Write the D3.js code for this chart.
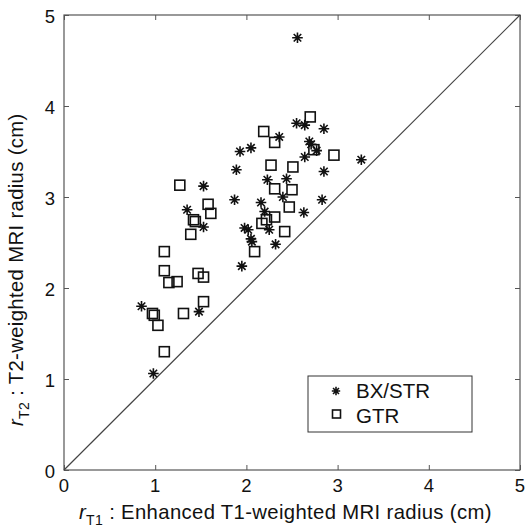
<!DOCTYPE html>
<html><head><meta charset="utf-8">
<script src="https://cdn.jsdelivr.net/npm/d3@7"></script>
<style>body{margin:0;background:#fff}svg{display:block}text{font-family:"Liberation Sans",Arial,sans-serif;fill:#111}</style>
</head><body><svg id="c" width="525" height="530"></svg>
<script>
const bxX=[2.56,2.55,2.64,2.85,2.36,2.69,2.71,2.77,2.64,1.93,2.05,3.26,1.89,2.85,2.23,2.44,1.53,2.40,1.87,2.16,2.83,1.35,2.20,2.63,1.53,1.98,2.02,2.05,2.06,2.25,2.32,1.95,0.85,1.48,0.98];
const bxY=[4.75,3.81,3.79,3.75,3.66,3.61,3.58,3.51,3.44,3.50,3.54,3.41,3.30,3.28,3.19,3.20,3.12,3.00,2.97,2.94,2.97,2.86,2.84,2.83,2.67,2.66,2.64,2.54,2.51,2.64,2.48,2.24,1.80,1.74,1.06];
const gtrX=[2.70,2.19,2.31,2.74,2.96,2.27,2.51,1.27,2.31,2.50,1.58,2.47,1.61,2.31,1.42,1.44,2.17,2.22,1.39,2.42,2.09,1.10,1.10,1.15,1.24,1.47,1.53,1.53,1.31,0.97,0.99,1.03,1.10];
const gtrY=[3.88,3.72,3.60,3.52,3.46,3.35,3.33,3.13,3.09,3.08,2.92,2.89,2.82,2.78,2.75,2.73,2.71,2.75,2.59,2.62,2.40,2.40,2.19,2.06,2.07,2.16,2.12,1.85,1.72,1.72,1.70,1.59,1.30];
const ticks=[0,1,2,3,4,5];
const legendLabels=["BX/STR","GTR"];

const svg=d3.select("#c");
const L=64,R=520,T=15,B=470;
const x=d3.scaleLinear().domain([0,5]).range([L,R]);
const y=d3.scaleLinear().domain([0,5]).range([B,T]);
const axisCol="#555";

const g=svg.append("g");
const mk=(axis,tr)=>{const a=g.append("g").attr("transform",tr).call(axis);a.select(".domain").remove();a.selectAll("line").attr("stroke",axisCol);a.selectAll("text").remove();};
mk(d3.axisBottom(x).tickValues(ticks).tickSize(-5),`translate(0,${B})`);
mk(d3.axisTop(x).tickValues(ticks).tickSize(-5),`translate(0,${T})`);
mk(d3.axisLeft(y).tickValues(ticks).tickSize(-5),`translate(${L},0)`);
mk(d3.axisRight(y).tickValues(ticks).tickSize(-5),`translate(${R},0)`);
g.append("rect").attr("x",L).attr("y",T).attr("width",R-L).attr("height",B-T).attr("fill","none").attr("stroke",axisCol).attr("stroke-width",1.2);

svg.selectAll(".xl").data(ticks).enter().append("text").attr("x",d=>x(d)).attr("y",B+22).attr("text-anchor","middle").attr("font-size",18.5).text(d=>d);
svg.selectAll(".yl").data(ticks).enter().append("text").attr("x",L-9).attr("y",d=>y(d)+8).attr("text-anchor","end").attr("font-size",18.5).text(d=>d);

svg.append("line").attr("x1",x(0)).attr("y1",y(0)).attr("x2",x(5)).attr("y2",y(5)).attr("stroke","#444").attr("stroke-width",1.2);

const starPath=r=>{const rd=r*0.7071;return `M${-r},0L${r},0M0,${-r}L0,${r}M${-rd},${-rd}L${rd},${rd}M${-rd},${rd}L${rd},${-rd}`;};
const bx=bxX.map((v,i)=>[v,bxY[i]]);
const gt=gtrX.map((v,i)=>[v,gtrY[i]]);
svg.append("g").selectAll("path").data(bx).enter().append("path").attr("d",starPath(5.3)).attr("transform",d=>`translate(${x(d[0])},${y(d[1])})`).attr("stroke","#111").attr("stroke-width",1.6).attr("fill","none");
const s=10;
svg.append("g").selectAll("rect").data(gt).enter().append("rect").attr("x",d=>x(d[0])-s/2).attr("y",d=>y(d[1])-s/2).attr("width",s).attr("height",s).attr("fill","none").attr("stroke","#111").attr("stroke-width",1.6);

const lg=svg.append("g");
lg.append("rect").attr("x",308).attr("y",376).attr("width",164).attr("height",56).attr("fill","#fff").attr("stroke","#333").attr("stroke-width",1);
lg.append("path").attr("d",starPath(4.2)).attr("transform","translate(336,391)").attr("stroke","#111").attr("stroke-width",1.6).attr("fill","none");
lg.append("rect").attr("x",332.5).attr("y",410).attr("width",8).attr("height",8).attr("fill","none").attr("stroke","#111").attr("stroke-width",1.6);
lg.append("text").attr("x",356).attr("y",398).attr("font-size",20.5).text(legendLabels[0]);
lg.append("text").attr("x",356).attr("y",423).attr("font-size",20.5).text(legendLabels[1]);

const xt=svg.append("text").attr("x",79).attr("y",519).attr("font-size",20.3).attr("letter-spacing",0.35);
xt.append("tspan").attr("font-style","italic").text("r");
xt.append("tspan").attr("font-size",14).attr("dy",5.5).text("T1");
xt.append("tspan").attr("dy",-5.5).text(" : Enhanced T1-weighted MRI radius (cm)");

const yt=svg.append("text").attr("transform","translate(23,426) rotate(-90)").attr("font-size",20.3).attr("letter-spacing",0.35);
yt.append("tspan").attr("font-style","italic").text("r");
yt.append("tspan").attr("font-size",14).attr("dy",6).text("T2");
yt.append("tspan").attr("dy",-6).text(" : T2-weighted MRI radius (cm)");
</script></body></html>
